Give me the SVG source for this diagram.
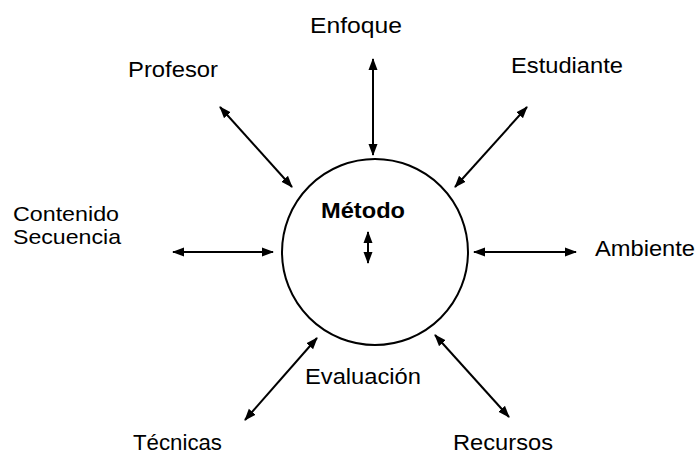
<svg xmlns="http://www.w3.org/2000/svg" width="699" height="455" viewBox="0 0 699 455">
<style>
text{font-family:"Liberation Sans",Arial,sans-serif;font-size:22px;fill:#000}
.b{font-weight:bold}
.s{font-size:21px}
.c line{stroke:#000;stroke-width:2;marker-start:url(#ah);marker-end:url(#ah)}
</style>
<defs>
<marker id="ah" markerUnits="userSpaceOnUse" markerWidth="12" markerHeight="10" refX="11" refY="4.5" orient="auto-start-reverse" viewBox="0 0 12 9">
<path d="M0,0 L12,4.5 L0,9 z" fill="#000"/>
</marker>
</defs>
<rect width="699" height="455" fill="#fff"/>
<g id="metodo">
<circle cx="375" cy="252" r="93" fill="none" stroke="#000" stroke-width="2"/>
<text class="b" x="321" y="218" textLength="84" lengthAdjust="spacingAndGlyphs">Método</text>
<text x="305" y="384" textLength="116" lengthAdjust="spacingAndGlyphs">Evaluación</text>
</g>
<g id="enfoque"><text x="310" y="33" textLength="92" lengthAdjust="spacingAndGlyphs">Enfoque</text></g>
<g id="profesor"><text x="128" y="77" textLength="90" lengthAdjust="spacingAndGlyphs">Profesor</text></g>
<g id="estudiante"><text x="511" y="73" textLength="112" lengthAdjust="spacingAndGlyphs">Estudiante</text></g>
<g id="contenido"><text class="s" x="13" y="221" textLength="106" lengthAdjust="spacingAndGlyphs">Contenido</text><text class="s" x="13" y="244" textLength="108" lengthAdjust="spacingAndGlyphs">Secuencia</text></g>
<g id="ambiente"><text x="595" y="256" textLength="100" lengthAdjust="spacingAndGlyphs">Ambiente</text></g>
<g id="tecnicas"><text x="133" y="450" textLength="89" lengthAdjust="spacingAndGlyphs">Técnicas</text></g>
<g id="recursos"><text x="453" y="450" textLength="100" lengthAdjust="spacingAndGlyphs">Recursos</text></g>
<g id="connectors" class="c">
<line x1="373" y1="59" x2="373" y2="155"/>
<line x1="527" y1="107" x2="455" y2="187"/>
<line x1="220" y1="107" x2="292" y2="187"/>
<line x1="173" y1="252" x2="273" y2="252"/>
<line x1="474" y1="252" x2="576" y2="252"/>
<line x1="317" y1="338" x2="245" y2="420"/>
<line x1="435" y1="335" x2="509" y2="417"/>
<line x1="368" y1="232" x2="368" y2="263"/>
</g>
</svg>
